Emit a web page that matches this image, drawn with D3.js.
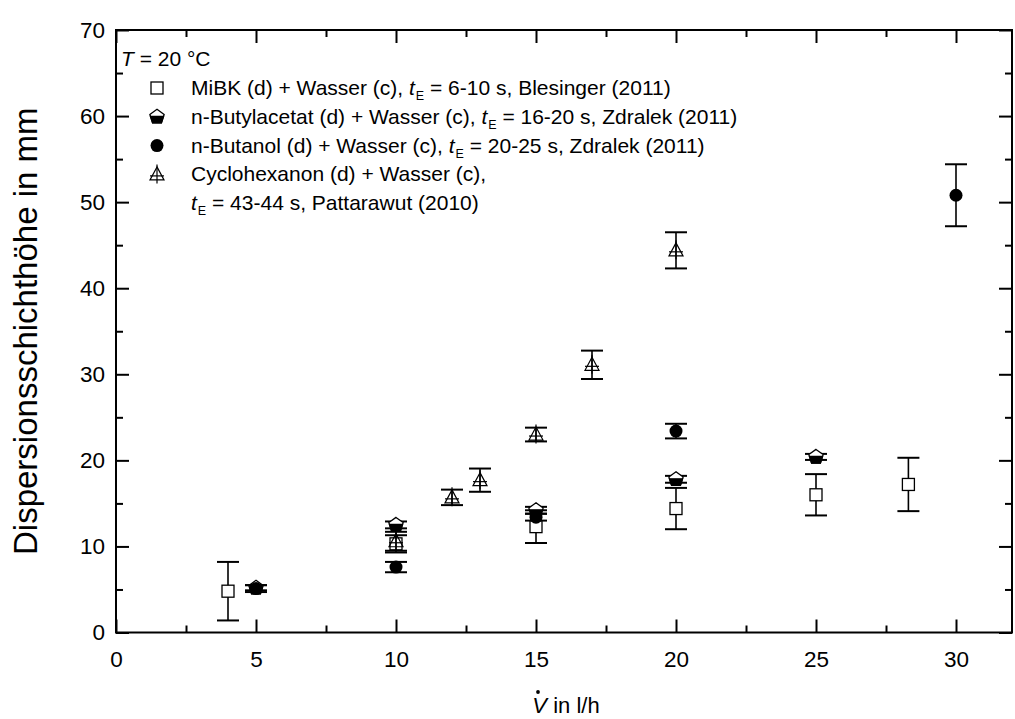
<!DOCTYPE html>
<html><head><meta charset="utf-8">
<script src="https://cdn.jsdelivr.net/npm/d3@7"></script>
<style>
html,body{margin:0;padding:0;background:#fff;}
svg{display:block;font-family:"Liberation Sans",Arial,sans-serif;}
</style></head>
<body><svg id="c" width="1015" height="719"></svg>
<script>
// ---- data ----
const mibkX = [4, 10, 15, 20, 25, 28.3];
const mibkY = [4.8, 10.3, 12.3, 14.4, 16.0, 17.2];
const mibkErr = [3.4, 1.0, 1.9, 2.4, 2.4, 3.1];

const butylX = [5, 10, 15, 20, 25];
const butylY = [5.2, 12.5, 14.2, 17.8, 20.4];
const butylErr = [0.3, 0.4, 0.4, 0.4, 0.35];

const butanolX = [5, 10, 15, 20, 30];
const butanolY = [5.1, 7.6, 13.4, 23.4, 50.8];
const butanolErr = [0.4, 0.6, 0.4, 0.85, 3.6];

const cycloX = [10, 12, 13, 15, 17, 20];
const cycloY = [10.6, 15.7, 17.7, 23.0, 31.1, 44.4];
const cycloErr = [1.1, 0.9, 1.35, 0.8, 1.65, 2.1];

const xMajor = [0, 5, 10, 15, 20, 25, 30];
const xMinor = [2.5, 7.5, 12.5, 17.5, 22.5, 27.5];
const yMajor = [0, 10, 20, 30, 40, 50, 60, 70];
const yMinor = [5, 15, 25, 35, 45, 55, 65];

const legendHeader = "T";
const legendItems = [
  {sym: "square", pre: "MiBK (d) + Wasser (c), ", post: " = 6-10 s, Blesinger (2011)"},
  {sym: "pent", pre: "n-Butylacetat (d) + Wasser (c), ", post: " = 16-20 s, Zdralek (2011)"},
  {sym: "circle", pre: "n-Butanol (d) + Wasser (c), ", post: " = 20-25 s, Zdralek (2011)"},
  {sym: "tri", pre: "Cyclohexanon (d) + Wasser (c),", post: null},
  {sym: null, pre: "", post: " = 43-44 s, Pattarawut (2010)"}
];

// ---- layout ----
const L = 116, R = 1012, T = 30, B = 632.5;
const x = d3.scaleLinear().domain([0, 32]).range([L, L + 28 * 32]);
const y = d3.scaleLinear().domain([0, 70]).range([B, T]);

const svg = d3.select("#c");

// frame
svg.append("rect").attr("x", L).attr("y", T).attr("width", R - L).attr("height", B - T)
  .attr("fill", "none").attr("stroke", "#000").attr("stroke-width", 2);

// axes with inward ticks
const axB = d3.axisBottom(x).tickValues(xMajor).tickSize(-13).tickPadding(19).tickFormat(d3.format("d"));
const gB = svg.append("g").attr("transform", `translate(0,${B})`).call(axB);
const gBm = svg.append("g").attr("transform", `translate(0,${B})`).call(d3.axisBottom(x).tickValues(xMinor).tickSize(-7).tickFormat(""));
const gT = svg.append("g").attr("transform", `translate(0,${T})`).call(d3.axisTop(x).tickValues(xMajor).tickSize(-13).tickFormat(""));
const gTm = svg.append("g").attr("transform", `translate(0,${T})`).call(d3.axisTop(x).tickValues(xMinor).tickSize(-7).tickFormat(""));
const gL = svg.append("g").attr("transform", `translate(${L},0)`).call(d3.axisLeft(y).tickValues(yMajor).tickSize(-13).tickPadding(11).tickFormat(d3.format("d")));
const gLm = svg.append("g").attr("transform", `translate(${L},0)`).call(d3.axisLeft(y).tickValues(yMinor).tickSize(-7).tickFormat(""));
const gR = svg.append("g").attr("transform", `translate(${R},0)`).call(d3.axisRight(y).tickValues(yMajor).tickSize(-13).tickFormat(""));
const gRm = svg.append("g").attr("transform", `translate(${R},0)`).call(d3.axisRight(y).tickValues(yMinor).tickSize(-7).tickFormat(""));
[gB, gBm, gT, gTm, gL, gLm, gR, gRm].forEach(g => {
  g.select(".domain").remove();
  g.selectAll(".tick line").attr("stroke", "#000").attr("stroke-width", 2);
  g.selectAll(".tick text").attr("font-size", 22.5).attr("fill", "#000")
    .attr("font-family", '"Liberation Sans",Arial,sans-serif');
});
gB.selectAll(".tick text").attr("dy", "0.71em");

// axis titles
svg.append("text").attr("transform", `translate(37,${(T + B) / 2}) rotate(-90)`)
  .attr("text-anchor", "middle").attr("font-size", 33).text("Dispersionsschichthöhe in mm");
const xt = svg.append("text").attr("x", 566).attr("y", 713).attr("text-anchor", "middle").attr("font-size", 22);
xt.append("tspan").attr("font-style", "italic").text("V");
xt.append("tspan").text(" in l/h");
// dot above V
svg.append("circle").attr("cx", 538).attr("cy", 692).attr("r", 1.9).attr("fill", "#000");

// ---- marker drawing ----
function drawSym(g, type, cx, cy) {
  if (type === "square") {
    g.append("rect").attr("x", cx - 6).attr("y", cy - 6).attr("width", 12).attr("height", 12)
      .attr("fill", "#fff").attr("stroke", "#000").attr("stroke-width", 1.3);
  } else if (type === "circle") {
    g.append("circle").attr("cx", cx).attr("cy", cy).attr("r", 6.5).attr("fill", "#000");
  } else if (type === "pent") {
    const r = 7.5;
    const pts = d3.range(5).map(i => {
      const a = -Math.PI / 2 + i * 2 * Math.PI / 5;
      return [cx + r * Math.cos(a), cy + r * Math.sin(a)];
    });
    g.append("path").attr("d", "M" + pts.join("L") + "Z").attr("fill", "#fff")
      .attr("stroke", "#000").attr("stroke-width", 1.3);
    const yc = cy - 0.5;
    const lower = [[pts[4][0] + (yc - pts[4][1]) * (pts[3][0] - pts[4][0]) / (pts[3][1] - pts[4][1]), yc],
                   [pts[1][0] + (yc - pts[1][1]) * (pts[2][0] - pts[1][0]) / (pts[2][1] - pts[1][1]), yc],
                   pts[2], pts[3]];
    g.append("path").attr("d", "M" + lower.join("L") + "Z").attr("fill", "#000")
      .attr("stroke", "#000").attr("stroke-width", 1.3);
  } else if (type === "tri") {
    const h = 13, w = 14;
    g.append("path").attr("d", `M${cx},${cy - h / 2 - 1}L${cx + w / 2},${cy + h / 2 - 1}L${cx - w / 2},${cy + h / 2 - 1}Z`)
      .attr("fill", "none").attr("stroke", "#000").attr("stroke-width", 1.2);
    g.append("line").attr("x1", cx - w / 2).attr("x2", cx + w / 2).attr("y1", cy + 1.5).attr("y2", cy + 1.5)
      .attr("stroke", "#000").attr("stroke-width", 1.2);
    g.append("line").attr("x1", cx).attr("x2", cx).attr("y1", cy - 10).attr("y2", cy + 9)
      .attr("stroke", "#000").attr("stroke-width", 1.2);
  }
}

function drawSeries(xs, ys, es, type) {
  const g = svg.append("g");
  xs.forEach((xv, i) => {
    const cx = x(xv), y1 = y(ys[i] + es[i]), y2 = y(ys[i] - es[i]);
    g.append("line").attr("x1", cx).attr("x2", cx).attr("y1", y1).attr("y2", y2)
      .attr("stroke", "#000").attr("stroke-width", 1.6);
    [y1, y2].forEach(yy => g.append("line").attr("x1", cx - 11).attr("x2", cx + 11)
      .attr("y1", yy).attr("y2", yy).attr("stroke", "#000").attr("stroke-width", 2));
  });
  xs.forEach((xv, i) => drawSym(g, type, x(xv), y(ys[i])));
}
drawSeries(mibkX, mibkY, mibkErr, "square");
drawSeries(butylX, butylY, butylErr, "pent");
drawSeries(butanolX, butanolY, butanolErr, "circle");
drawSeries(cycloX, cycloY, cycloErr, "tri");

// ---- legend ----
const lg = svg.append("g").attr("font-size", 21);
const hdr = lg.append("text").attr("x", 121).attr("y", 66);
hdr.append("tspan").attr("font-style", "italic").text(legendHeader);
hdr.append("tspan").text(" = 20 °C");
const rowY0 = 95, rowDy = 28.8, textX = 191, symX = 157;
legendItems.forEach((it, i) => {
  const by = rowY0 + i * rowDy;
  if (it.sym) drawSym(lg, it.sym, symX, by - 7);
  const t = lg.append("text").attr("x", textX).attr("y", by);
  if (it.pre) t.append("tspan").text(it.pre);
  if (it.post !== null) {
    t.append("tspan").attr("font-style", "italic").text("t");
    t.append("tspan").attr("font-size", 12.5).attr("dy", 5).attr("dx", 1).text("E");
    t.append("tspan").attr("dy", -5).text(it.post);
  }
});
</script>
</body></html>
